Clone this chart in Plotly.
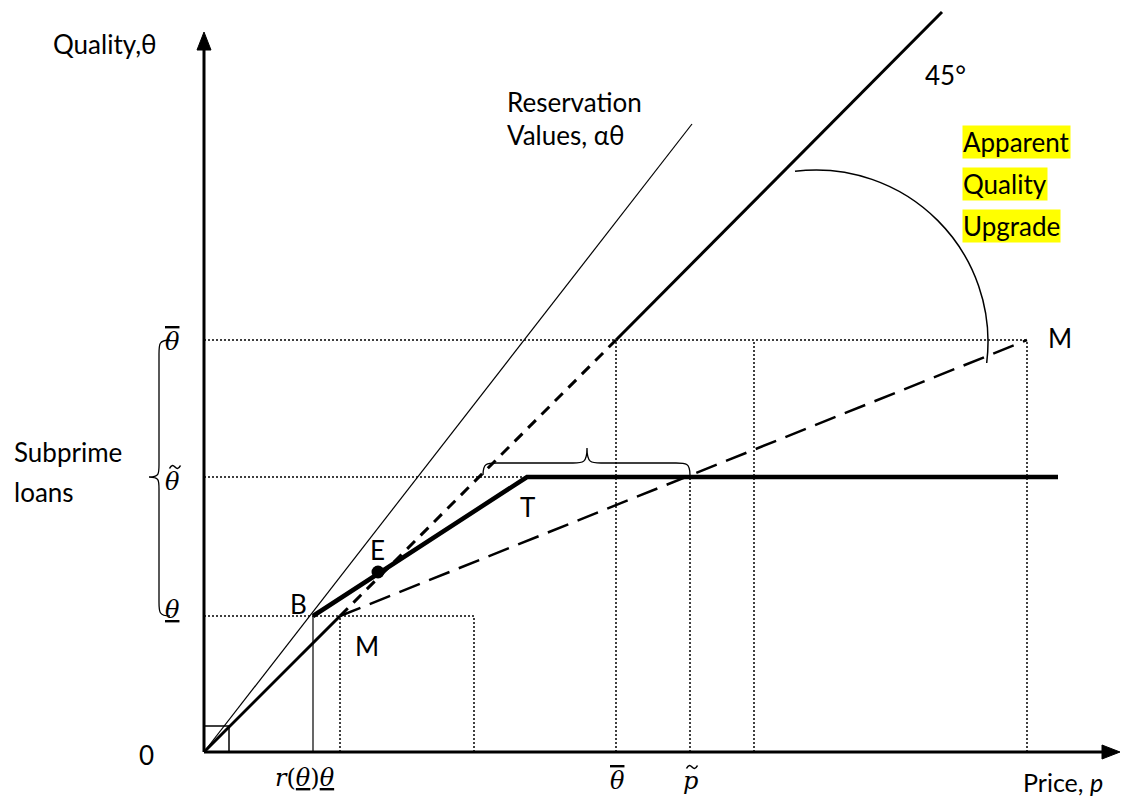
import numpy as np
import plotly.graph_objects as go

# ---- diagram values (price on x, quality on y; origin at 0) ----
theta_low, theta_tilde, theta_bar = 136, 275, 412      # quality levels
r_theta_low = 109                                       # B's price r(θ)θ
m_low_x = 136                                           # kink of M schedule
p_tilde = 486
extra_price_marks = [270, 550]
m_high = (823, 412)
point_B = (109, 136)
point_E = (174, 180)
point_T = (323, 275)
flat_end_x = 854
line45_top = (738, 740)
reservation_end = (488, 628)
x_axis_end, y_axis_end = 916, 720

FONT = "Lato"
MATH = "DejaVu Serif"
FS = 26

fig = go.Figure()

def seg(xs, ys, width, dash="solid", color="black"):
    fig.add_trace(go.Scatter(x=xs, y=ys, mode="lines", hoverinfo="skip",
                             line=dict(color=color, width=width, dash=dash)))

DOT = "2px,2px"

# dotted guide lines
seg([0, m_high[0]], [theta_bar, theta_bar], 1.5, DOT)
seg([0, point_T[0]], [theta_tilde, theta_tilde], 1.5, DOT)
seg([0, extra_price_marks[0]], [theta_low, theta_low], 1.5, DOT)
seg([extra_price_marks[0]] * 2, [0, theta_low], 1.5, DOT)
seg([m_low_x] * 2, [0, theta_low], 1.5, DOT)
seg([theta_bar] * 2, [0, theta_bar], 1.5, DOT)
seg([p_tilde] * 2, [0, theta_tilde], 1.5, DOT)
seg([extra_price_marks[1]] * 2, [0, theta_bar], 1.5, DOT)
seg([m_high[0]] * 2, [0, m_high[1]], 1.5, DOT)

# thin drop line under B
seg([r_theta_low, r_theta_low], [0, theta_low], 1.2)

# small square at the origin
seg([0, 25, 25, 0], [26, 26, 0, 0], 1.5)

# reservation values line
seg([0, reservation_end[0]], [0, reservation_end[1]], 1.2)

# 45-degree line: solid, short-dashed, solid
seg([0, m_low_x], [0, theta_low], 3)
seg([m_low_x, theta_bar], [theta_low, theta_bar], 3, "11px,8px")
seg([theta_bar, line45_top[0]], [theta_bar, line45_top[1]], 3)

# M schedule (long dashes)
seg([m_low_x, m_high[0]], [theta_low, m_high[1]], 2.5, "22px,10px")

# B-T segment and flat part
seg([point_B[0], point_T[0], flat_end_x], [point_B[1], point_T[1], point_T[1]], 4.5)

# point E
fig.add_trace(go.Scatter(x=[point_E[0]], y=[point_E[1]], mode="markers", hoverinfo="skip",
                         marker=dict(color="black", size=13)))

# axes
seg([0, 0], [0, y_axis_end - 12], 3)
seg([0, x_axis_end - 12], [0, 0], 3)
fig.add_shape(type="path", path=f"M -7,{y_axis_end-18} L 0,{y_axis_end} L 7,{y_axis_end-18} Z",
              fillcolor="black", line=dict(color="black", width=1))
fig.add_shape(type="path", path=f"M {x_axis_end-18},-7 L {x_axis_end},0 L {x_axis_end-18},7 Z",
              fillcolor="black", line=dict(color="black", width=1))

# angle arc (two cubic Bezier pieces of a circle)
cx, cy, rad = 612, 410, 172
a0, a1 = np.deg2rad(97), np.deg2rad(-7)
path = ""
angles = [a0, (a0 + a1) / 2, a1]
for i in range(2):
    t0, t1 = angles[i], angles[i + 1]
    k = 4 / 3 * np.tan((t1 - t0) / 4)
    p0 = (cx + rad * np.cos(t0), cy + rad * np.sin(t0))
    p3 = (cx + rad * np.cos(t1), cy + rad * np.sin(t1))
    p1 = (p0[0] - k * rad * np.sin(t0), p0[1] + k * rad * np.cos(t0))
    p2 = (p3[0] + k * rad * np.sin(t1), p3[1] - k * rad * np.cos(t1))
    if i == 0:
        path += f"M {p0[0]:.1f},{p0[1]:.1f} "
    path += f"C {p1[0]:.1f},{p1[1]:.1f} {p2[0]:.1f},{p2[1]:.1f} {p3[0]:.1f},{p3[1]:.1f} "
fig.add_shape(type="path", path=path, line=dict(color="black", width=1.5))

# horizontal brace above θ̃ between the two lines
bx0, bx1, bmid = 279, p_tilde, 383
by0, by1, btip = 277, 289, 304
fig.add_shape(type="path", line=dict(color="black", width=1.3),
              path=(f"M {bx0},{by0} C {bx0},{by1} {bx0+4},{by1} {bx0+14},{by1} "
                    f"L {bmid-14},{by1} C {bmid-4},{by1} {bmid},{by1} {bmid},{btip} "
                    f"C {bmid},{by1} {bmid+4},{by1} {bmid+14},{by1} "
                    f"L {bx1-14},{by1} C {bx1-4},{by1} {bx1},{by1} {bx1},{by0}"))

# vertical brace marking subprime loans
vx0, vx1, vtip = -34, -45, -55
vy_top, vy_bot, vmid = theta_bar, theta_low, theta_tilde
fig.add_shape(type="path", line=dict(color="black", width=1.3),
              path=(f"M {vx0},{vy_top} C {vx1},{vy_top} {vx1},{vy_top-4} {vx1},{vy_top-14} "
                    f"L {vx1},{vmid+12} C {vx1},{vmid+3} {vx1},{vmid} {vtip},{vmid} "
                    f"C {vx1},{vmid} {vx1},{vmid-3} {vx1},{vmid-12} "
                    f"L {vx1},{vy_bot+14} C {vx1},{vy_bot+4} {vx1},{vy_bot} {vx0},{vy_bot}"))

def tilde(x, y, w=5.5):
    # small wave accent centred on (x, y)
    fig.add_shape(type="path", line=dict(color="black", width=1.6),
                  path=(f"M {x-w},{y-1.5} C {x-w*0.6},{y+2.8} {x-w*0.3},{y+1.6} {x},{y} "
                        f"C {x+w*0.3},{y-1.6} {x+w*0.6},{y-2.8} {x+w},{y+1.5}"))

def text(x, y, s, size=FS, font=FONT, xanchor="center", **kw):
    fig.add_annotation(x=x, y=y, text=s, showarrow=False, xanchor=xanchor, yanchor="middle",
                       font=dict(family=font, size=size, color="black"), **kw)

text(-99, 708, "Quality,θ")
text(301, 650, "Reservation", xanchor="left")
text(301, 617, "Values, αθ", xanchor="left")
text(741, 677, "45°")
for yy, s in zip([610, 568, 526], ["Apparent", "Quality", "Upgrade"]):
    text(758, yy, s, xanchor="left", bgcolor="#FFFF00", borderpad=0)
text(856, 414, "M")
text(-192, 300, "Subprime", xanchor="left")
text(-192, 260, "loans", xanchor="left")
text(-58, -3, "0", size=FS)
text(94, 148, "B")
text(173, 202, "E")
text(323, 245, "T")
text(163, 106, "M")
text(859, -30, "Price, <i>p</i>", size=25)

# math labels; accents drawn as overline / small wave above the glyph
OVER = '<span style="text-decoration:overline">{}</span>'
MS = 24
text(-32, theta_bar - 2, "<i>" + OVER.format("θ") + "</i>", size=MS, font=MATH)
text(-32, theta_tilde - 5, "<i>θ</i>", size=MS, font=MATH)
tilde(-29, theta_tilde + 10)
text(-32, theta_low + 6, "<i><u>θ</u></i>", size=MS, font=MATH)
text(101, -26, "<i>r</i>(<i><u>θ</u></i>)<i><u>θ</u></i>", size=MS, font=MATH)
text(theta_bar + 1, -29, "<i>" + OVER.format("θ") + "</i>", size=MS, font=MATH)
text(p_tilde, -29, "<i>p</i>", size=MS, font=MATH)
tilde(p_tilde + 2, -15)

fig.update_layout(
    width=1126, height=799, margin=dict(l=0, r=0, t=0, b=0),
    paper_bgcolor="white", plot_bgcolor="white", showlegend=False,
    xaxis=dict(range=[-204, 922], visible=False, fixedrange=True),
    yaxis=dict(range=[-47, 752], visible=False, fixedrange=True),
)
fig.write_html("out.html")
